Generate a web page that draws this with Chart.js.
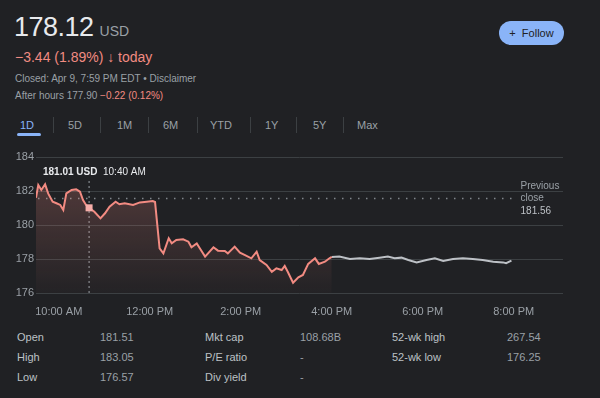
<!DOCTYPE html>
<html>
<head>
<meta charset="utf-8">
<script src="https://cdn.jsdelivr.net/npm/chart.js@4"></script>
<style>
  body { margin: 0; background: #202124; width: 600px; height: 398px; overflow: hidden; font-family: Arial, "Liberation Sans", sans-serif; position: relative; }
  .abs { position: absolute; white-space: nowrap; }
  .price { left: 14px; top: 12px; font-size: 27px; color: #e8eaed; letter-spacing: -0.5px; }
  .price small { font-size: 14px; color: #9aa0a6; margin-left: 6px; letter-spacing: 0; }
  .change { left: 15px; top: 49px; font-size: 14px; color: #f28b82; }
  .meta { left: 15px; font-size: 10px; color: #9aa0a6; }
  .red { color: #f28b82; }
  .follow { left: 499px; top: 21px; width: 65px; height: 24px; border-radius: 12px; background: #8ab4f8; color: #202124; font-size: 11px; line-height: 24px; text-align: center; }
  .tab { top: 119px; font-size: 11px; color: #9aa0a6; }
  .tab.on { color: #8ab4f8; }
  .sep { top: 117px; width: 1px; height: 16px; background: #3c4043; }
  .uline { left: 17px; top: 133px; width: 24px; height: 3px; border-radius: 2px; background: #8ab4f8; }
  #wrap { position: absolute; left: 0; top: 140px; width: 600px; height: 175px; }
</style>
</head>
<body>
<div class="abs price">178.12<small>USD</small></div>
<div class="abs change">−3.44 (1.89%) &#8595; today</div>
<div class="abs meta" style="top:73px">Closed: Apr 9, 7:59 PM EDT • Disclaimer</div>
<div class="abs meta" style="top:90px">After hours 177.90 <span class="red">−0.22 (0.12%)</span></div>
<div class="abs follow">+&nbsp; Follow</div>

<div id="tabs"></div>
<div class="abs uline"></div>

<div id="wrap"><canvas id="myChart"></canvas></div>
<div id="stats"></div>

<script>
// regular session (red)
const regTimes = ['9:30','9:33','9:37','9:42','9:46','9:52','9:57','10:02','10:06','10:10','10:17','10:23','10:28','10:32','10:36','10:40','10:47','10:55','11:01','11:07','11:15','11:20','11:27','11:38','11:47','11:56','12:04','12:07','12:13','12:18','12:25','12:29','12:35','12:44','12:51','12:55','13:02','13:06','13:13','13:24','13:30','13:39','13:43','13:52','13:59','14:05','14:14','14:21','14:25','14:34','14:41','14:47','14:54','14:58','15:02','15:09','15:16','15:22','15:29','15:38','15:43','15:51','15:57','16:00'];
const regPrices = [181.6,182.35,182.06,182.4,181.86,181.37,181.28,181.18,180.88,181.86,182.06,182.1,181.96,181.47,181.18,181.01,180.78,180.39,180.69,181.08,181.37,181.22,181.28,181.18,181.33,181.37,181.41,181.35,178.63,178.33,179.22,178.92,179.12,179.16,179.02,178.69,178.92,178.63,178.14,178.69,178.49,178.47,178.33,178.73,178.37,178.24,178.04,178.43,177.94,177.65,177.25,177.45,177.35,177.59,177.25,176.6,176.92,177.06,177.71,178.04,177.71,177.84,178.04,178.12];

// after hours (grey)
const afterTimes = ['16:00','16:10','16:24','16:37','16:50','17:03','17:14','17:23','17:32','17:41','17:52','18:05','18:16','18:27','18:40','18:53','19:06','19:19','19:33','19:46','19:50','19:57'];
const afterPrices = [178.12,178.14,178.0,178.04,178.0,178.08,178.14,178.04,178.08,177.94,177.8,177.94,178.04,177.88,178.0,178.04,178.0,177.94,177.84,177.8,177.75,177.9];

const prevClose = 181.56;
const hoverTime = '10:40';
const hoverPrice = 181.01;

const xTickTimes = ['10:00','12:00','14:00','16:00','18:00','20:00'];
const xTickLabels = ['10:00 AM','12:00 PM','2:00 PM','4:00 PM','6:00 PM','8:00 PM'];
const yTicks = [176,178,180,182,184];

const tabs = ['1D','5D','1M','6M','YTD','1Y','5Y','Max'];
const tabX = [20,68,117,163,210,265,313,357];
const sepX = [53,100,148,197,250,296,343];

const statRows = [
  ['Open','181.51','Mkt cap','108.68B','52-wk high','267.54'],
  ['High','183.05','P/E ratio','-','52-wk low','176.25'],
  ['Low','176.57','Div yield','-','','']
];

function mins(t) {
  const p = t.split(':');
  return Number(p[0]) * 60 + Number(p[1]);
}

// header tabs + stats
let html = '';
tabs.forEach((t, i) => {
  html += `<div class="abs tab${i == 0 ? ' on' : ''}" style="left:${tabX[i]}px">${t}</div>`;
});
sepX.forEach(x => { html += `<div class="abs sep" style="left:${x}px"></div>`; });
document.getElementById('tabs').innerHTML = html;

const colX = [17,100,205,300,392,507];
let shtml = '';
statRows.forEach((row, r) => {
  row.forEach((txt, c) => {
    const col = c % 2 ? '#9aa0a6' : '#bdc1c6';
    shtml += `<div class="abs" style="left:${colX[c]}px;top:${331 + r * 20}px;font-size:11px;color:${col}">${txt}</div>`;
  });
});
document.getElementById('stats').innerHTML = shtml;

const extras = {
  id: 'extras',
  beforeDatasetsDraw(chart) {
    const { ctx, scales: { x, y } } = chart;
    const py = y.getPixelForValue(prevClose);
    ctx.save();
    ctx.strokeStyle = '#80868b';
    ctx.lineWidth = 1.5;
    ctx.setLineDash([1.5, 6.5]);
    ctx.beginPath();
    ctx.moveTo(x.left + 2, py);
    ctx.lineTo(x.getPixelForValue(mins('20:05')), py);
    ctx.stroke();

    const hx = x.getPixelForValue(mins(hoverTime));
    ctx.setLineDash([2, 3]);
    ctx.lineWidth = 1;
    ctx.strokeStyle = '#9aa0a6';
    ctx.beginPath();
    ctx.moveTo(hx, y.top + 24);
    ctx.lineTo(hx, y.bottom);
    ctx.stroke();
    ctx.restore();
  },
  afterDatasetsDraw(chart) {
    const { ctx, scales: { x, y } } = chart;
    ctx.save();
    const hx = x.getPixelForValue(mins(hoverTime));
    const hy = y.getPixelForValue(hoverPrice);
    ctx.fillStyle = '#f6aea9';
    ctx.fillRect(hx - 3.5, hy - 3.5, 7, 7);

    ctx.font = 'bold 10px Arial, "Liberation Sans", sans-serif';
    ctx.fillStyle = '#e8eaed';
    ctx.textBaseline = 'middle';
    ctx.fillText('181.01 USD', 43, 32);
    ctx.font = '10px Arial, "Liberation Sans", sans-serif';
    ctx.fillText('10:40 AM', 103, 32);

    const lx = x.getPixelForValue(mins('20:05')) + 3;
    ctx.fillStyle = '#9aa0a6';
    ctx.fillText('Previous', lx, 46);
    ctx.fillText('close', lx, 58);
    ctx.fillStyle = '#bdc1c6';
    ctx.fillText(prevClose.toFixed(2), lx, 71);
    ctx.restore();
  }
};

const ctx = document.getElementById('myChart');
new Chart(ctx, {
  type: 'line',
  data: {
    datasets: [{
      data: regTimes.map((t, i) => ({ x: mins(t), y: regPrices[i] })),
      borderColor: '#f28b82',
      borderWidth: 2,
      pointRadius: 0,
      tension: 0,
      fill: 'start',
      backgroundColor: function(context) {
        const area = context.chart.chartArea;
        if (!area) return 'rgba(242,139,130,0.15)';
        const g = context.chart.ctx.createLinearGradient(0, area.top, 0, area.bottom);
        g.addColorStop(0, 'rgba(242,139,130,0.28)');
        g.addColorStop(1, 'rgba(242,139,130,0.02)');
        return g;
      }
    }, {
      data: afterTimes.map((t, i) => ({ x: mins(t), y: afterPrices[i] })),
      borderColor: '#bdc1c6',
      borderWidth: 2,
      pointRadius: 0,
      tension: 0,
      fill: false
    }]
  },
  options: {
    responsive: true,
    maintainAspectRatio: false,
    animation: false,
    layout: { padding: { top: 17, right: 37, left: 0, bottom: 0 } },
    plugins: { legend: { display: false }, tooltip: { enabled: false } },
    scales: {
      x: {
        type: 'linear',
        min: mins('9:30'),
        max: mins('21:05'),
        afterBuildTicks: axis => { axis.ticks = xTickTimes.map(t => ({ value: mins(t) })); },
        afterFit: axis => { axis.height = 22; },
        grid: { display: false },
        border: { display: false },
        ticks: {
          color: '#9aa0a6',
          font: { size: 11, family: 'Arial, "Liberation Sans", sans-serif' },
          padding: 4,
          maxRotation: 0,
          autoSkip: false,
          callback: function(value) {
            const i = xTickTimes.map(mins).indexOf(value);
            return i >= 0 ? xTickLabels[i] : '';
          }
        }
      },
      y: {
        min: 176,
        max: 184,
        afterBuildTicks: axis => { axis.ticks = yTicks.map(v => ({ value: v })); },
        afterFit: axis => { axis.width = 36; },
        grid: { color: '#3c4043', lineWidth: 1, drawTicks: false },
        border: { display: false },
        ticks: {
          color: '#9aa0a6',
          font: { size: 11, family: 'Arial, "Liberation Sans", sans-serif' },
          padding: 2
        }
      }
    }
  },
  plugins: [extras]
});
</script>
</body>
</html>
